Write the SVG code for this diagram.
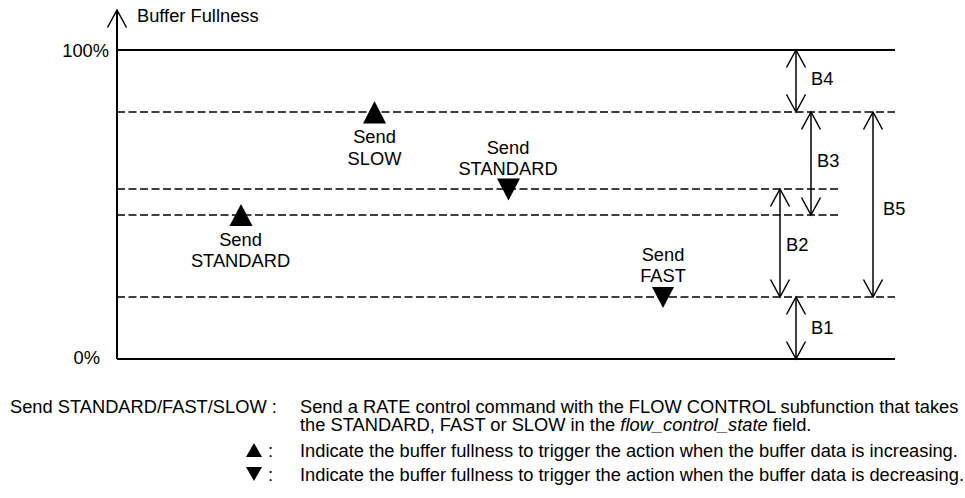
<svg xmlns="http://www.w3.org/2000/svg" width="965" height="498" viewBox="0 0 965 498">
<style>
text{font-family:"Liberation Sans",Arial,sans-serif;font-size:18.3px;fill:#000}
.solid{stroke:#000;stroke-width:2;fill:none}
.dash{stroke:#000;stroke-width:1.3;stroke-dasharray:8 3.5;fill:none}
.dim{stroke:#000;stroke-width:1.5;fill:none}
.tri{fill:#000;stroke:none}
.c{text-anchor:middle}
</style>
<defs>
<marker id="v" viewBox="-20 -12 24 24" refX="0" refY="0" markerWidth="24" markerHeight="24" markerUnits="userSpaceOnUse" orient="auto-start-reverse">
<path d="M-17.5,-9.5 L0,0 L-17.5,9.5" fill="none" stroke="#000" stroke-width="1.5"/>
</marker>
</defs>
<rect width="965" height="498" fill="#fff"/>
<g id="axis">
<line class="solid" x1="117" y1="359" x2="117" y2="10" marker-end="url(#v)"/>
<text x="137" y="22">Buffer Fullness</text>
<text x="109" y="57" text-anchor="end">100%</text>
<text x="100" y="364" text-anchor="end">0%</text>
</g>
<g id="levels">
<line class="solid" x1="117" y1="50" x2="895" y2="50"/>
<line class="dash" x1="117" y1="112" x2="895" y2="112"/>
<line class="dash" x1="117" y1="189" x2="838" y2="189"/>
<line class="dash" x1="117" y1="215" x2="838" y2="215"/>
<line class="dash" x1="117" y1="297" x2="895" y2="297"/>
<line class="solid" x1="117" y1="359" x2="895" y2="359"/>
</g>
<g id="connectors">
<line class="dim" x1="796" y1="50" x2="796" y2="112" marker-start="url(#v)" marker-end="url(#v)"/>
<line class="dim" x1="811" y1="112" x2="811" y2="215" marker-start="url(#v)" marker-end="url(#v)"/>
<line class="dim" x1="873" y1="112" x2="873" y2="297" marker-start="url(#v)" marker-end="url(#v)"/>
<line class="dim" x1="780" y1="189" x2="780" y2="297" marker-start="url(#v)" marker-end="url(#v)"/>
<line class="dim" x1="796" y1="297" x2="796" y2="359" marker-start="url(#v)" marker-end="url(#v)"/>
</g>
<g id="B4"><text x="811" y="85">B4</text></g>
<g id="B3"><text x="817" y="167">B3</text></g>
<g id="B5"><text x="883" y="215">B5</text></g>
<g id="B2"><text x="786" y="251">B2</text></g>
<g id="B1"><text x="811" y="334">B1</text></g>
<g id="send-slow">
<polygon class="tri" points="374.5,101 363,123.5 386,123.5"/>
<text class="c" x="374.5" y="143">Send</text>
<text class="c" x="374.5" y="164.5">SLOW</text>
</g>
<g id="send-standard-down">
<polygon class="tri" points="497,178.5 520,178.5 508.5,200.5"/>
<text class="c" x="508" y="154">Send</text>
<text class="c" x="508" y="175">STANDARD</text>
</g>
<g id="send-standard-up">
<polygon class="tri" points="241,204 229.5,226 252.5,226"/>
<text class="c" x="240.5" y="246">Send</text>
<text class="c" x="240.5" y="267">STANDARD</text>
</g>
<g id="send-fast">
<polygon class="tri" points="652,287 674,287 663,308"/>
<text class="c" x="663" y="261">Send</text>
<text class="c" x="663" y="282">FAST</text>
</g>
<g id="legend">
<text x="10" y="413">Send STANDARD/FAST/SLOW :</text>
<text x="300" y="413">Send a RATE control command with the FLOW CONTROL subfunction that takes</text>
<text x="300" y="431">the STANDARD, FAST or SLOW in the <tspan font-style="italic">flow_control_state</tspan> field.</text>
<polygon class="tri" points="254,443 246,457 262,457"/>
<text x="268" y="457">:</text>
<text x="300" y="457">Indicate the buffer fullness to trigger the action when the buffer data is increasing.</text>
<polygon class="tri" points="246,467 262,467 254,481"/>
<text x="268" y="481">:</text>
<text x="300" y="481">Indicate the buffer fullness to trigger the action when the buffer data is decreasing.</text>
</g>
</svg>
